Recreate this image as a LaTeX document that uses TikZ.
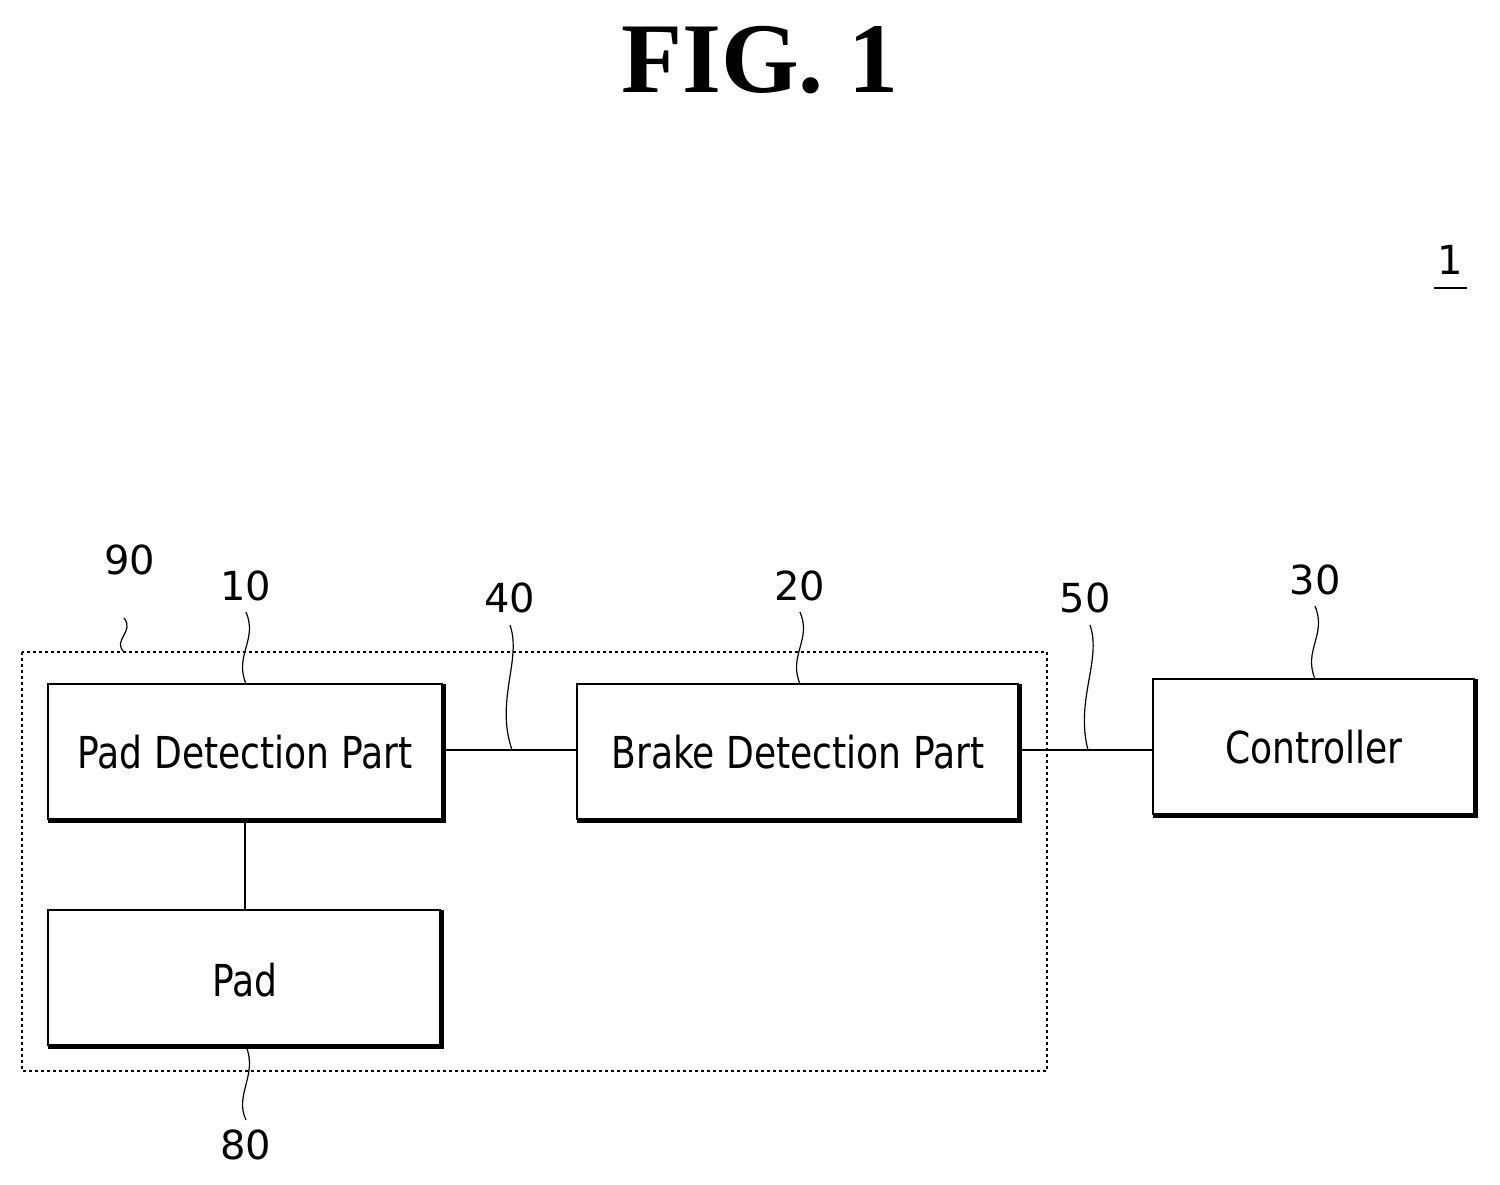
\documentclass[tikz,border=0pt]{standalone}
\usepackage{fontspec}
\setmainfont{Liberation Serif}
\newfontfamily\boxfont{DejaVu Sans}
\begin{document}
\begin{tikzpicture}[x=1pt,y=-1pt,
  blk/.style={draw,line width=2pt},
  lbl/.style={font=\boxfont\fontsize{40}{44}\selectfont},
  txt/.style={font=\boxfont\fontsize{44}{48}\selectfont,xscale=0.82},
  lead/.style={line width=1.2pt}]
\useasboundingbox (0,0) rectangle (1500,1184);
\node[font=\bfseries\fontsize{100}{110}\selectfont] (fig) at (760,60) {FIG. 1};
\node[lbl] (one) at (1450,260) {1};
\draw[line width=2pt] (1434,288) -- (1467,288);
% dashed box
\draw[dashed,line width=2pt] (22,652) rectangle (1047,1071);
% boxes
\newcommand{\shbox}[5]{%
  \draw[line width=2pt] (#1,#4) -- (#1,#2) -- (#3,#2);
  \draw[line width=5pt] (#3,#2) -- (#3,#4) -- (#1,#4);
  \node[txt] (#5) at ({(#1+#3)/2},{(#2+#4)/2}) {};}
\shbox{48}{684}{443}{820}{pdp}
\shbox{577}{684}{1019}{820}{bdp}
\shbox{1153}{679}{1475}{815}{ctl}
\shbox{48}{910}{441}{1046}{pad}
\node[txt] at (245,752) {Pad Detection Part};
\node[txt] at (798,752) {Brake Detection Part};
\node[txt] at (1314,747) {Controller};
\node[txt] at (245,980) {Pad};
% connectors
\coordinate (a1) at (443,750); \coordinate (a2) at (577,750);
\coordinate (b1) at (1019,750); \coordinate (b2) at (1153,750);
\coordinate (c1) at (245,820); \coordinate (c2) at (245,910);
\draw[line width=2pt] (a1) -- (a2);
\draw[line width=2pt] (b1) -- (b2);
\draw[line width=2pt] (c1) -- (c2);
% labels
\node[lbl] (l90) at (130,560) {90};
\node[lbl] (l10) at (246,586) {10};
\node[lbl] (l40) at (510,598) {40};
\node[lbl] (l20) at (800,586) {20};
\node[lbl] (l50) at (1085,598) {50};
\node[lbl] (l30) at (1315,580) {30};
\node[lbl] (l80) at (246,1145) {80};
% leaders
\draw[lead] (124,618) .. controls (135,632) and (112,640) .. (124,652);
\draw[lead] (246,612) .. controls (258,640) and (234,655) .. (246,684);
\draw[lead] (510,625) .. controls (522,660) and (495,700) .. (512,750);
\draw[lead] (800,612) .. controls (812,640) and (788,655) .. (800,684);
\draw[lead] (1090,625) .. controls (1102,660) and (1075,700) .. (1088,750);
\draw[lead] (1315,606) .. controls (1327,635) and (1303,650) .. (1315,679);
\draw[lead] (246,1046) .. controls (258,1075) and (234,1095) .. (246,1120);
\end{tikzpicture}
\end{document}
